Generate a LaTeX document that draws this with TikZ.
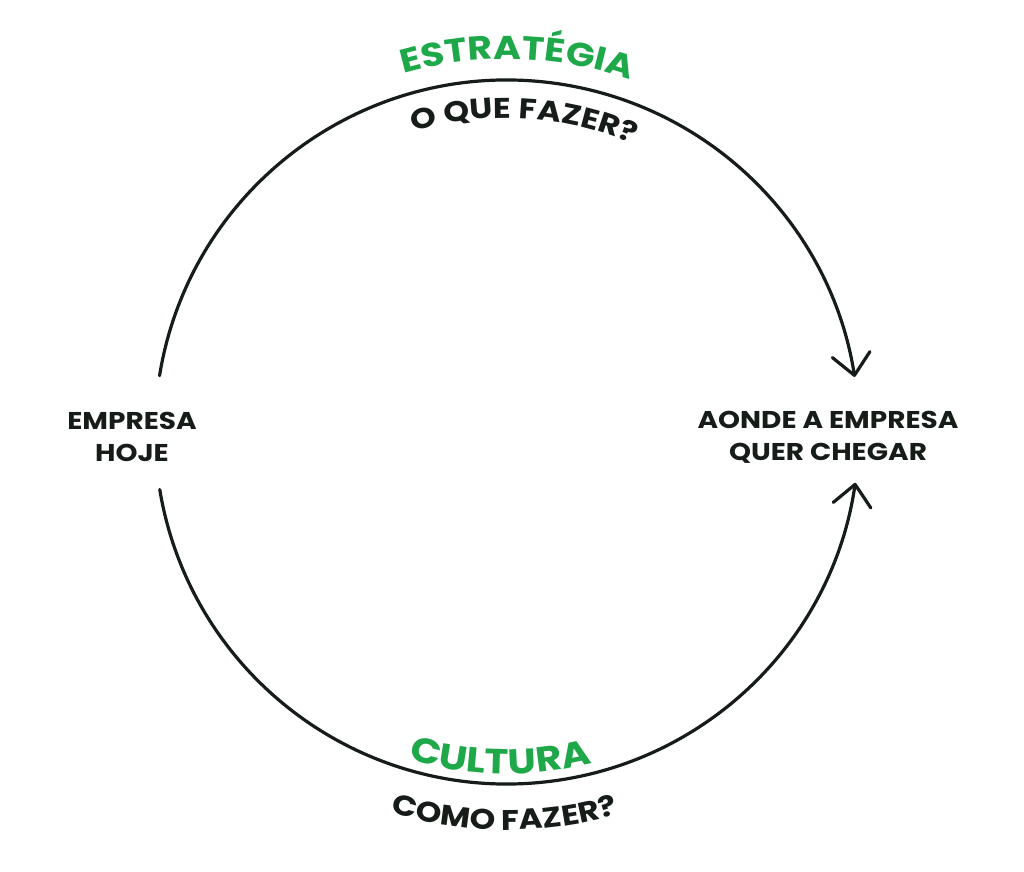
\documentclass[tikz,border=0pt]{standalone}
\usepackage{fontspec}
\setmainfont{Poppins}[FakeStretch=1.15]
\usetikzlibrary{arrows.meta,decorations.text}
\definecolor{ink}{HTML}{161C18}
\definecolor{leaf}{HTML}{1EA84A}
\begin{document}
\begin{tikzpicture}[x=1pt,y=1pt,
  arc line/.style={draw=ink, line width=3.2pt, line cap=round,
    -{Straight Barb[length=21pt,width=38pt,round]}},
  side label/.style={font=\bfseries\fontsize{24.3}{32}\selectfont, text=ink, align=center},
  curved/.style={decorate, decoration={text along path, text align=center, text={#1}}}
  ]
\useasboundingbox (0,0) rectangle (1024,871);
\coordinate (c) at (507,439);
\def\R{352}
\node[side label] (hoje) at (132,434) {EMPRESA\\HOJE};
\node[side label] (meta) at (828,434) {AONDE A EMPRESA\\QUER CHEGAR};
% arc end points
\path (c) ++(170.8:\R) coordinate (s1);
\path (c) ++(189.4:\R) coordinate (s2);
\draw[arc line] (s1) arc[start angle=170.8, end angle=9, radius=\R];
\draw[arc line] (s2) arc[start angle=189.4, end angle=351.7, radius=\R];
% curved labels
\path (c) ++(118.4:373) coordinate (t1);
\path (c) ++(116.8:314) coordinate (t2);
\path (c) ++(238.8:342) coordinate (t3);
\path (c) ++(239.6:398) coordinate (t4);
\path[curved={|\fontsize{33}{33}\selectfont\bfseries\color{leaf}|ESTRATÉGIA}]
  (t1) arc[start angle=118.4, end angle=58.4, radius=373];
\path[curved={|\fontsize{28.5}{28.5}\selectfont\bfseries\color{ink}|O QUE FAZER?}]
  (t2) arc[start angle=116.8, end angle=56.8, radius=314];
\path[curved={|\fontsize{35}{35}\selectfont\bfseries\color{leaf}|CULTURA}]
  (t3) arc[start angle=238.8, end angle=298.8, radius=342];
\path[curved={|\fontsize{28.4}{28.4}\selectfont\bfseries\color{ink}|COMO FAZER?}]
  (t4) arc[start angle=239.6, end angle=299.6, radius=398];
\end{tikzpicture}
\end{document}
